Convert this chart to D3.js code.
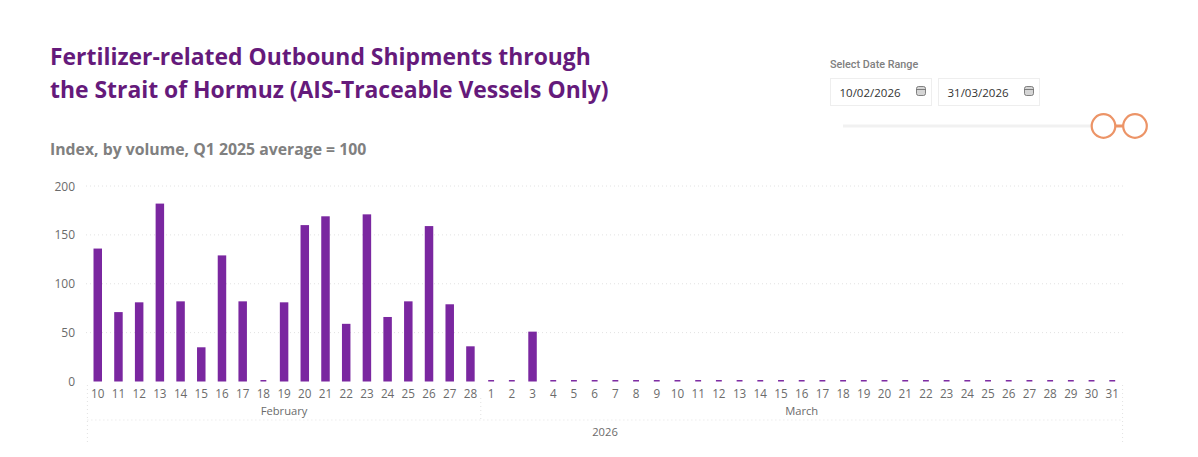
<!DOCTYPE html>
<html>
<head>
<meta charset="utf-8">
<script src="https://cdn.jsdelivr.net/npm/d3@7"></script>
<style>
	html, body { margin: 0; padding: 0; background: #fff; }
	svg { display: block; font-family: "Open Sans", sans-serif; }
	.tick-label { fill: #6b6b6b; font-size: 12px; }
	.level-label { fill: #6b6b6b; font-size: 11.2px; }
	.grid { stroke: #e2e2e2; stroke-width: 1; stroke-dasharray: 1 3; }
</style>
</head>
<body>
<div id="root"></div>
<script>
const febDays = [10,11,12,13,14,15,16,17,18,19,20,21,22,23,24,25,26,27,28]
const marDays = [1,2,3,4,5,6,7,8,9,10,11,12,13,14,15,16,17,18,19,20,21,22,23,24,25,26,27,28,29,30,31]
const febValues = [136,71,81,182,82,35,129,82,1.5,81,160,169,59,171,66,82,159,79,36]
const marValues = [1.5,1.5,51,1.5,1.5,1.5,1.5,1.5,1.5,1.5,1.5,1.5,1.5,1.5,1.5,1.5,1.5,1.5,1.5,1.5,1.5,1.5,1.5,1.5,1.5,1.5,1.5,1.5,1.5,1.5,1.5]
const yTicks = [0,50,100,150,200]
const titleLines = ["Fertilizer-related Outbound Shipments through", "the Strait of Hormuz (AIS-Traceable Vessels Only)"]
const subtitle = "Index, by volume, Q1 2025 average = 100"
const dateBoxes = ["10/02/2026", "31/03/2026"]

const width = 1198
const height = 457

const data = [
	...febDays.map((d, i) => ({ key: "F" + d, day: d, value: febValues[i] })),
	...marDays.map((d, i) => ({ key: "M" + d, day: d, value: marValues[i] })),
]

const svg = d3.select("#root").append("svg")
	.attr("width", width)
	.attr("height", height)
	.attr("viewBox", `0 0 ${width} ${height}`)

const x = d3.scaleBand()
	.domain(data.map(d => d.key))
	.range([87.4, 1122.6])
	.paddingInner(0.59)
	.paddingOuter(0.295)

const y = d3.scaleLinear()
	.domain([0, 200])
	.range([381.5, 186])

// title
svg.append("g").selectAll("text")
	.data(titleLines)
	.enter().append("text")
	.attr("x", 50)
	.attr("y", (d, i) => 65 + i * 33)
	.attr("fill", "#651a7b")
	.style("font-size", "22.9px")
	.style("font-weight", 700)
	.text(d => d)

svg.append("text")
	.attr("x", 50)
	.attr("y", 155)
	.attr("fill", "#808080")
	.style("font-size", "15.8px")
	.style("font-weight", 700)
	.text(subtitle)

// gridlines
svg.append("g").selectAll("line")
	.data(yTicks.filter(d => d > 0))
	.enter().append("line")
	.attr("class", "grid")
	.attr("x1", 86)
	.attr("x2", 1125)
	.attr("y1", d => y(d))
	.attr("y2", d => y(d))

// y axis labels
svg.append("g").selectAll("text")
	.data(yTicks)
	.enter().append("text")
	.attr("class", "tick-label")
	.attr("x", 75)
	.attr("y", d => y(d) + 4.5)
	.attr("text-anchor", "end")
	.text(d => d)

// bars, the near-zero days show as a short dash
svg.append("g").selectAll("rect")
	.data(data)
	.enter().append("rect")
	.attr("x", d => x(d.key) + (d.value < 2 ? 1.3 : 0))
	.attr("y", d => y(d.value))
	.attr("width", d => x.bandwidth() - (d.value < 2 ? 2.6 : 0))
	.attr("height", d => y(0) - y(d.value))
	.attr("fill", "#7a27a0")

// day labels
svg.append("g").selectAll("text")
	.data(data)
	.enter().append("text")
	.attr("class", "tick-label")
	.attr("x", d => x(d.key) + x.bandwidth() / 2)
	.attr("y", 398)
	.attr("text-anchor", "middle")
	.style("font-size", "11.7px")
	.text(d => d.day)

// month and year levels of the axis
const left = x.range()[0]
const right = x.range()[1]
const split = x("M1") - x.step() * x.paddingInner() / 2

svg.append("line").attr("class", "grid")
	.attr("x1", left).attr("x2", right).attr("y1", 420).attr("y2", 420)

const vLines = [[left, 385, 445], [split, 398, 420], [right, 385, 445]]
svg.append("g").selectAll("line")
	.data(vLines)
	.enter().append("line")
	.attr("class", "grid")
	.attr("x1", d => d[0])
	.attr("x2", d => d[0])
	.attr("y1", d => d[1])
	.attr("y2", d => d[2])

const axisLabels = [
	["February", (left + split) / 2, 415],
	["March", (split + right) / 2, 415],
	["2026", (left + right) / 2, 436],
]
svg.append("g").selectAll("text")
	.data(axisLabels)
	.enter().append("text")
	.attr("class", "level-label")
	.attr("x", d => d[1])
	.attr("y", d => d[2])
	.attr("text-anchor", "middle")
	.text(d => d[0])

// date range slicer
svg.append("text")
	.attr("x", 830)
	.attr("y", 68)
	.attr("fill", "#808080")
	.style("font-family", "Roboto, sans-serif")
	.style("font-size", "10.8px")
	.style("font-weight", 500)
	.text("Select Date Range")

const box = svg.append("g").selectAll("g")
	.data(dateBoxes)
	.enter().append("g")
	.attr("transform", (d, i) => `translate(${830.5 + i * 108},78.5)`)

box.append("rect")
	.attr("width", 101)
	.attr("height", 27)
	.attr("fill", "#fff")
	.attr("stroke", "#eeeeee")

box.append("text")
	.attr("x", 9)
	.attr("y", 18.5)
	.attr("fill", "#333")
	.style("font-size", "11.5px")
	.text(d => d)

box.append("rect")
	.attr("x", 86)
	.attr("y", 8)
	.attr("width", 9)
	.attr("height", 9)
	.attr("rx", 2)
	.attr("fill", "#d5d5d5")
	.attr("stroke", "#666")
	.attr("stroke-width", 0.8)

box.append("line")
	.attr("x1", 86)
	.attr("x2", 95)
	.attr("y1", 11)
	.attr("y2", 11)
	.attr("stroke", "#666")
	.attr("stroke-width", 0.8)

svg.append("line")
	.attr("x1", 843)
	.attr("x2", 1092)
	.attr("y1", 126)
	.attr("y2", 126)
	.attr("stroke", "#f1f1f1")
	.attr("stroke-width", 3)

svg.append("line")
	.attr("x1", 1115)
	.attr("x2", 1123)
	.attr("y1", 126)
	.attr("y2", 126)
	.attr("stroke", "#ec9467")
	.attr("stroke-width", 3)

svg.append("g").selectAll("circle")
	.data([1103.5, 1135])
	.enter().append("circle")
	.attr("cx", d => d)
	.attr("cy", 126)
	.attr("r", 11.8)
	.attr("fill", "#fff")
	.attr("stroke", "#ec9467")
	.attr("stroke-width", 2.2)
</script>
</body>
</html>
